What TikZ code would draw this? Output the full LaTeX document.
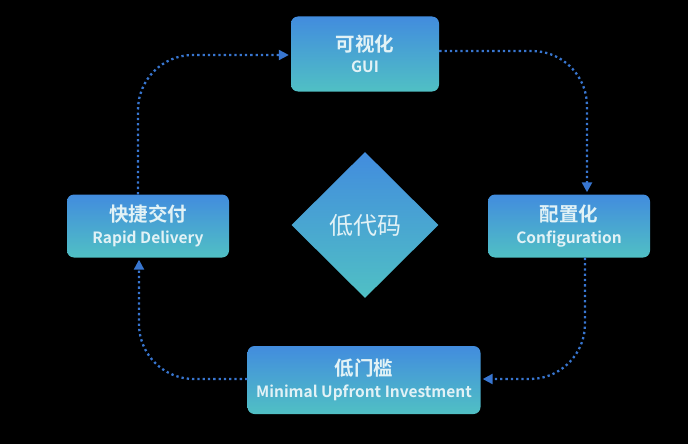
\documentclass[tikz,border=0pt]{standalone}
\usepackage{fontspec}
\setmainfont{Noto Sans CJK SC}[BoldFont={* Bold}]
\usetikzlibrary{shapes.geometric,arrows.meta}
\definecolor{boxtop}{RGB}{66,140,222}
\definecolor{boxbot}{RGB}{80,192,196}
\definecolor{linkblue}{RGB}{56,118,208}
\definecolor{txtwhite}{RGB}{226,242,246}
\newcommand{\cnline}[1]{{\fontsize{19.5}{22}\selectfont #1}}
\newcommand{\enline}[1]{{\fontsize{15.5}{18}\selectfont #1}}
\begin{document}
\begin{tikzpicture}[
        x=1pt, y=-1pt,
        stage/.style={rounded corners=7pt, top color=boxtop, bottom color=boxbot,
            text=txtwhite, align=center, inner sep=0pt, font=\bfseries},
        core/.style={diamond, top color=boxtop, bottom color=boxbot, text=txtwhite,
            inner sep=0pt, minimum width=147pt, minimum height=146pt,
            font=\fontsize{24}{28}\selectfont},
        link/.style={draw=linkblue, line width=2.3pt, dash pattern=on 2.3pt off 3pt,
            rounded corners=55pt, -{Triangle[length=10pt,width=10pt]}, shorten >=2pt},
    ]
    \fill[black] (0,0) rectangle (688,444);
    \useasboundingbox (0,0) rectangle (688,444);
    % stages
    \node[stage, minimum width=148pt, minimum height=75pt] (gui) at (365,54)
        {\cnline{可视化}\\[6pt]\enline{GUI}};
    \node[stage, minimum width=162pt, minimum height=63pt] (config) at (569,226)
        {\cnline{配置化}\\[6pt]\enline{Configuration}};
    \node[stage, minimum width=233pt, minimum height=68pt] (entry) at (364,380)
        {\cnline{低门槛}\\[6pt]\enline{Minimal Upfront Investment}};
    \node[stage, minimum width=162pt, minimum height=63pt] (deliver) at (148,226)
        {\cnline{快捷交付}\\[6pt]\enline{Rapid Delivery}};
    % centre
    \node[core] (lowcode) at (365,225) {低代码};
    % cycle
    \draw[link] ([xshift=-10pt]deliver.north) |- ([yshift=-1pt]gui.west);
    \draw[link] ([yshift=3pt]gui.east) -| ([xshift=18pt]config.north);
    \draw[link] ([xshift=16pt]config.south) |- ([yshift=1pt]entry.east);
    \draw[link] ([yshift=1pt]entry.west) -| ([xshift=-9pt]deliver.south);
\end{tikzpicture}
\end{document}
